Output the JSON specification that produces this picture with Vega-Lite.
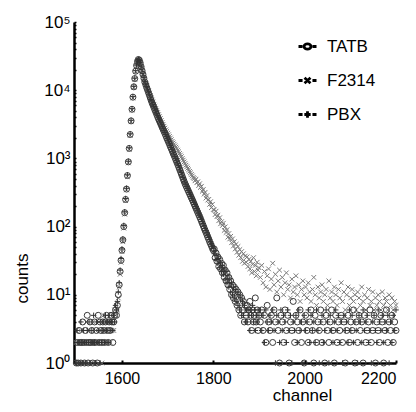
{
"$schema":"https://vega.github.io/schema/vega-lite/v6.json",
"width":322,"height":341,
"autosize":{"type":"none"},
"padding":{"left":74,"top":22,"right":20,"bottom":49},
"background":"white",
"config":{"view":{"stroke":null},"font":"Liberation Sans Narrow, Arial Narrow, Liberation Sans, Arial, sans-serif"},
"data":{"values":[
{"c":1500,"TATB":1,"F2314":2,"PBX":1},{"c":1502,"TATB":2,"F2314":1,"PBX":3},{"c":1504,"TATB":1,"F2314":2,"PBX":2},{"c":1506,"TATB":3,"F2314":1,"PBX":2},{"c":1508,"TATB":2,"F2314":2,"PBX":1},{"c":1510,"TATB":1,"F2314":3,"PBX":4},{"c":1512,"TATB":2,"F2314":1,"PBX":2},{"c":1514,"TATB":4,"F2314":2,"PBX":1},{"c":1516,"TATB":2,"F2314":1,"PBX":3},{"c":1518,"TATB":1,"F2314":2,"PBX":2},{"c":1520,"TATB":3,"F2314":1,"PBX":1},{"c":1522,"TATB":2,"F2314":4,"PBX":2},{"c":1524,"TATB":5,"F2314":2,"PBX":3},{"c":1526,"TATB":1,"F2314":1,"PBX":2},{"c":1528,"TATB":2,"F2314":3,"PBX":4},{"c":1530,"TATB":4,"F2314":2,"PBX":1},{"c":1532,"TATB":2,"F2314":1,"PBX":2},{"c":1534,"TATB":3,"F2314":2,"PBX":3},{"c":1536,"TATB":1,"F2314":4,"PBX":2},{"c":1538,"TATB":2,"F2314":2,"PBX":5},{"c":1540,"TATB":4,"F2314":1,"PBX":2},{"c":1542,"TATB":2,"F2314":3,"PBX":1},{"c":1544,"TATB":3,"F2314":2,"PBX":4},{"c":1546,"TATB":1,"F2314":2,"PBX":2},{"c":1548,"TATB":5,"F2314":1,"PBX":3},{"c":1550,"TATB":2,"F2314":4,"PBX":2},{"c":1552,"TATB":4,"F2314":2,"PBX":1},{"c":1554,"TATB":3,"F2314":3,"PBX":4},{"c":1556,"TATB":2,"F2314":1,"PBX":2},{"c":1558,"TATB":4,"F2314":2,"PBX":3},{"c":1560,"TATB":3,"F2314":5,"PBX":4},{"c":1562,"TATB":2,"F2314":3,"PBX":2},{"c":1564,"TATB":4,"F2314":2,"PBX":5},{"c":1566,"TATB":5,"F2314":4,"PBX":3},{"c":1568,"TATB":3,"F2314":2,"PBX":4},{"c":1570,"TATB":2,"F2314":4,"PBX":2},{"c":1572,"TATB":4,"F2314":3,"PBX":5},{"c":1574,"TATB":3,"F2314":2,"PBX":4},{"c":1576,"TATB":5,"F2314":4,"PBX":3},{"c":1578,"TATB":4,"F2314":3,"PBX":4},{"c":1580,"TATB":2,"F2314":5,"PBX":3},{"c":1582,"TATB":4,"F2314":3,"PBX":5},{"c":1584,"TATB":5,"F2314":6,"PBX":4},{"c":1586,"TATB":6,"F2314":5,"PBX":7},
{"c":1588,"TATB":5,"F2314":7,"PBX":6},{"c":1590,"TATB":7,"F2314":6,"PBX":8},{"c":1592,"TATB":10,"F2314":9,"PBX":11},{"c":1594,"TATB":14,"F2314":13,"PBX":15},{"c":1596,"TATB":22,"F2314":20,"PBX":23},{"c":1598,"TATB":32,"F2314":30,"PBX":34},{"c":1600,"TATB":45,"F2314":43,"PBX":47},{"c":1602,"TATB":64,"F2314":60,"PBX":66},{"c":1604,"TATB":100,"F2314":95,"PBX":104},{"c":1606,"TATB":160,"F2314":152,"PBX":165},{"c":1608,"TATB":250,"F2314":240,"PBX":258},{"c":1610,"TATB":355,"F2314":345,"PBX":365},{"c":1612,"TATB":560,"F2314":540,"PBX":575},{"c":1614,"TATB":890,"F2314":860,"PBX":910},{"c":1616,"TATB":1400,"F2314":1360,"PBX":1430},{"c":1618,"TATB":2240,"F2314":2180,"PBX":2290},{"c":1620,"TATB":3550,"F2314":3450,"PBX":3620},{"c":1622,"TATB":5250,"F2314":5120,"PBX":5350},{"c":1624,"TATB":7900,"F2314":7700,"PBX":8050},{"c":1626,"TATB":11200,"F2314":11000,"PBX":11400},{"c":1628,"TATB":14800,"F2314":14500,"PBX":15000},{"c":1630,"TATB":19000,"F2314":18700,"PBX":19300},{"c":1632,"TATB":23000,"F2314":22700,"PBX":23300},{"c":1634,"TATB":26300,"F2314":26000,"PBX":26600},{"c":1636,"TATB":28200,"F2314":27900,"PBX":28400},{"c":1638,"TATB":27500,"F2314":27300,"PBX":27700},{"c":1640,"TATB":25100,"F2314":25000,"PBX":25300},
{"c":1642,"TATB":22100,"F2314":22200,"PBX":22400},{"c":1644,"TATB":19400,"F2314":19600,"PBX":19800},{"c":1646,"TATB":17100,"F2314":17300,"PBX":17400},{"c":1648,"TATB":15000,"F2314":15300,"PBX":15300},{"c":1650,"TATB":13200,"F2314":13500,"PBX":13500},{"c":1652,"TATB":12100,"F2314":12400,"PBX":12400},{"c":1654,"TATB":11000,"F2314":11500,"PBX":11300},{"c":1656,"TATB":10100,"F2314":10600,"PBX":10400},{"c":1658,"TATB":9230,"F2314":9800,"PBX":9500},{"c":1660,"TATB":8450,"F2314":9050,"PBX":8700},{"c":1662,"TATB":7730,"F2314":8360,"PBX":7950},{"c":1664,"TATB":7060,"F2314":7710,"PBX":7300},{"c":1666,"TATB":6500,"F2314":7160,"PBX":6700},{"c":1668,"TATB":6030,"F2314":6670,"PBX":6200},{"c":1670,"TATB":5580,"F2314":6210,"PBX":5750},{"c":1672,"TATB":5160,"F2314":5790,"PBX":5320},{"c":1674,"TATB":4790,"F2314":5400,"PBX":4950},{"c":1676,"TATB":4430,"F2314":5030,"PBX":4580},{"c":1678,"TATB":4100,"F2314":4690,"PBX":4240},{"c":1680,"TATB":3800,"F2314":4370,"PBX":3930},{"c":1682,"TATB":3540,"F2314":4090,"PBX":3660},{"c":1684,"TATB":3300,"F2314":3840,"PBX":3410},{"c":1686,"TATB":3080,"F2314":3600,"PBX":3180},{"c":1688,"TATB":2860,"F2314":3370,"PBX":2960},{"c":1690,"TATB":2670,"F2314":3160,"PBX":2770},{"c":1692,"TATB":2490,"F2314":2960,"PBX":2580},{"c":1694,"TATB":2320,"F2314":2780,"PBX":2400},{"c":1696,"TATB":2160,"F2314":2620,"PBX":2240},{"c":1698,"TATB":2000,"F2314":2480,"PBX":2080},{"c":1700,"TATB":1860,"F2314":2340,"PBX":1930},{"c":1702,"TATB":1730,"F2314":2220,"PBX":1800},{"c":1704,"TATB":1610,"F2314":2100,"PBX":1670},{"c":1706,"TATB":1490,"F2314":1990,"PBX":1550},{"c":1708,"TATB":1390,"F2314":1880,"PBX":1440},{"c":1710,"TATB":1290,"F2314":1780,"PBX":1340},{"c":1712,"TATB":1190,"F2314":1690,"PBX":1240},{"c":1714,"TATB":1110,"F2314":1610,"PBX":1150},{"c":1716,"TATB":1030,"F2314":1530,"PBX":1070},{"c":1718,"TATB":953,"F2314":1460,"PBX":990},{"c":1720,"TATB":883,"F2314":1390,"PBX":920},{"c":1722,"TATB":818,"F2314":1320,"PBX":850},{"c":1724,"TATB":759,"F2314":1250,"PBX":790},{"c":1726,"TATB":698,"F2314":1180,"PBX":730},{"c":1728,"TATB":644,"F2314":1120,"PBX":670},{"c":1730,"TATB":593,"F2314":1060,"PBX":620},{"c":1732,"TATB":546,"F2314":998,"PBX":570},{"c":1734,"TATB":502,"F2314":942,"PBX":525},{"c":1736,"TATB":463,"F2314":889,"PBX":485},{"c":1738,"TATB":427,"F2314":841,"PBX":448},{"c":1740,"TATB":399,"F2314":794,"PBX":418},{"c":1742,"TATB":372,"F2314":755,"PBX":390},{"c":1744,"TATB":348,"F2314":716,"PBX":365},{"c":1746,"TATB":325,"F2314":681,"PBX":340},{"c":1748,"TATB":304,"F2314":646,"PBX":318},{"c":1750,"TATB":284,"F2314":614,"PBX":298},{"c":1752,"TATB":265,"F2314":582,"PBX":278},{"c":1754,"TATB":248,"F2314":553,"PBX":260},{"c":1756,"TATB":231,"F2314":525,"PBX":243},{"c":1758,"TATB":215,"F2314":506,"PBX":226},{"c":1760,"TATB":200,"F2314":470,"PBX":211},{"c":1762,"TATB":186,"F2314":495,"PBX":196},{"c":1764,"TATB":173,"F2314":440,"PBX":183},{"c":1766,"TATB":161,"F2314":455,"PBX":170},{"c":1768,"TATB":150,"F2314":400,"PBX":158},{"c":1770,"TATB":140,"F2314":425,"PBX":148},{"c":1772,"TATB":130,"F2314":375,"PBX":138},{"c":1774,"TATB":120,"F2314":390,"PBX":128},{"c":1776,"TATB":111,"F2314":330,"PBX":118},{"c":1778,"TATB":103,"F2314":350,"PBX":110},{"c":1780,"TATB":95,"F2314":300,"PBX":102},{"c":1782,"TATB":88,"F2314":318,"PBX":94},{"c":1784,"TATB":82,"F2314":262,"PBX":87},{"c":1786,"TATB":76,"F2314":285,"PBX":81},{"c":1788,"TATB":70,"F2314":245,"PBX":75},{"c":1790,"TATB":65,"F2314":250,"PBX":70},{"c":1792,"TATB":60,"F2314":212,"PBX":65},{"c":1794,"TATB":56,"F2314":232,"PBX":60},{"c":1796,"TATB":52,"F2314":190,"PBX":56},{"c":1798,"TATB":48,"F2314":212,"PBX":52},{"c":1800,"TATB":45,"F2314":178,"PBX":48},
{"c":1802,"TATB":47,"F2314":175,"PBX":40},{"c":1804,"TATB":35,"F2314":150,"PBX":44},{"c":1806,"TATB":41,"F2314":168,"PBX":33},{"c":1808,"TATB":31,"F2314":140,"PBX":38},{"c":1810,"TATB":36,"F2314":147,"PBX":29},{"c":1812,"TATB":26,"F2314":122,"PBX":34},{"c":1814,"TATB":33,"F2314":135,"PBX":25},{"c":1816,"TATB":24,"F2314":110,"PBX":30},{"c":1818,"TATB":29,"F2314":118,"PBX":22},{"c":1820,"TATB":21,"F2314":104,"PBX":27},{"c":1822,"TATB":27,"F2314":112,"PBX":20},{"c":1824,"TATB":18,"F2314":88,"PBX":24},{"c":1826,"TATB":23,"F2314":99,"PBX":17},{"c":1828,"TATB":16,"F2314":82,"PBX":22},{"c":1830,"TATB":21,"F2314":90,"PBX":15},{"c":1832,"TATB":14,"F2314":70,"PBX":19},{"c":1834,"TATB":18,"F2314":79,"PBX":13},{"c":1836,"TATB":12,"F2314":66,"PBX":17},{"c":1838,"TATB":16,"F2314":72,"PBX":11},{"c":1840,"TATB":10,"F2314":58,"PBX":15},{"c":1842,"TATB":14,"F2314":66,"PBX":10},{"c":1844,"TATB":9,"F2314":52,"PBX":13},{"c":1846,"TATB":13,"F2314":60,"PBX":9},{"c":1848,"TATB":8,"F2314":47,"PBX":12},{"c":1850,"TATB":12,"F2314":55,"PBX":8},{"c":1852,"TATB":7,"F2314":42,"PBX":11},{"c":1854,"TATB":11,"F2314":51,"PBX":7},{"c":1856,"TATB":6,"F2314":38,"PBX":10},{"c":1858,"TATB":10,"F2314":46,"PBX":6},{"c":1860,"TATB":5,"F2314":35,"PBX":9},{"c":1862,"TATB":9,"F2314":43,"PBX":5},{"c":1864,"TATB":6,"F2314":31,"PBX":8},{"c":1866,"TATB":8,"F2314":40,"PBX":5},{"c":1868,"TATB":4,"F2314":29,"PBX":7},{"c":1870,"TATB":7,"F2314":37,"PBX":4},
{"c":1872,"TATB":5,"F2314":30,"PBX":6},{"c":1874,"TATB":7,"F2314":36,"PBX":4},{"c":1876,"TATB":4,"F2314":26,"PBX":6},{"c":1878,"TATB":6,"F2314":33,"PBX":5},{"c":1880,"TATB":8,"F2314":24,"PBX":3},{"c":1882,"TATB":5,"F2314":31,"PBX":6},{"c":1884,"TATB":3,"F2314":21,"PBX":5},{"c":1886,"TATB":6,"F2314":28,"PBX":7},{"c":1888,"TATB":4,"F2314":35,"PBX":4},{"c":1890,"TATB":5,"F2314":22,"PBX":6},{"c":1892,"TATB":9,"F2314":27,"PBX":3},{"c":1894,"TATB":4,"F2314":19,"PBX":5},{"c":1896,"TATB":6,"F2314":30,"PBX":4},{"c":1898,"TATB":3,"F2314":23,"PBX":6},{"c":1900,"TATB":5,"F2314":25,"PBX":5},
{"c":1903,"TATB":4,"F2314":18,"PBX":6},{"c":1906,"TATB":6,"F2314":27,"PBX":3},{"c":1909,"TATB":3,"F2314":15,"PBX":5},{"c":1912,"TATB":5,"F2314":22,"PBX":2},{"c":1915,"TATB":2,"F2314":13,"PBX":6},{"c":1918,"TATB":7,"F2314":19,"PBX":4},{"c":1921,"TATB":4,"F2314":24,"PBX":3},{"c":1924,"TATB":3,"F2314":12,"PBX":5},{"c":1927,"TATB":5,"F2314":17,"PBX":4},{"c":1930,"TATB":2,"F2314":29,"PBX":6},{"c":1933,"TATB":6,"F2314":14,"PBX":3},{"c":1936,"TATB":4,"F2314":20,"PBX":1},{"c":1939,"TATB":9,"F2314":11,"PBX":5},{"c":1942,"TATB":3,"F2314":16,"PBX":4},{"c":1945,"TATB":1,"F2314":23,"PBX":2},{"c":1948,"TATB":5,"F2314":13,"PBX":6},{"c":1951,"TATB":4,"F2314":18,"PBX":3},{"c":1954,"TATB":2,"F2314":10,"PBX":5},{"c":1957,"TATB":6,"F2314":15,"PBX":4},{"c":1960,"TATB":3,"F2314":21,"PBX":2},{"c":1963,"TATB":5,"F2314":12,"PBX":6},{"c":1966,"TATB":1,"F2314":14,"PBX":3},{"c":1969,"TATB":4,"F2314":9,"PBX":5},{"c":1972,"TATB":3,"F2314":17,"PBX":1},{"c":1975,"TATB":8,"F2314":11,"PBX":4},{"c":1978,"TATB":2,"F2314":13,"PBX":3},{"c":1981,"TATB":5,"F2314":19,"PBX":5},{"c":1984,"TATB":4,"F2314":10,"PBX":2},{"c":1987,"TATB":3,"F2314":14,"PBX":6},{"c":1990,"TATB":6,"F2314":8,"PBX":3},{"c":1993,"TATB":2,"F2314":12,"PBX":4},{"c":1996,"TATB":4,"F2314":16,"PBX":1},{"c":1999,"TATB":1,"F2314":10,"PBX":5},
{"c":2002,"TATB":5,"F2314":13,"PBX":3},{"c":2005,"TATB":3,"F2314":9,"PBX":4},{"c":2008,"TATB":2,"F2314":15,"PBX":6},{"c":2011,"TATB":4,"F2314":11,"PBX":2},{"c":2014,"TATB":6,"F2314":8,"PBX":5},{"c":2017,"TATB":3,"F2314":12,"PBX":3},{"c":2020,"TATB":1,"F2314":18,"PBX":4},{"c":2023,"TATB":5,"F2314":10,"PBX":2},{"c":2026,"TATB":2,"F2314":7,"PBX":6},{"c":2029,"TATB":4,"F2314":13,"PBX":3},{"c":2032,"TATB":3,"F2314":9,"PBX":1},{"c":2035,"TATB":6,"F2314":11,"PBX":4},{"c":2038,"TATB":2,"F2314":14,"PBX":5},{"c":2041,"TATB":4,"F2314":8,"PBX":2},{"c":2044,"TATB":1,"F2314":10,"PBX":3},{"c":2047,"TATB":5,"F2314":12,"PBX":6},{"c":2050,"TATB":3,"F2314":7,"PBX":4},{"c":2053,"TATB":2,"F2314":16,"PBX":1},{"c":2056,"TATB":4,"F2314":9,"PBX":5},{"c":2059,"TATB":6,"F2314":11,"PBX":3},{"c":2062,"TATB":3,"F2314":8,"PBX":2},{"c":2065,"TATB":1,"F2314":13,"PBX":4},{"c":2068,"TATB":5,"F2314":10,"PBX":6},{"c":2071,"TATB":2,"F2314":7,"PBX":3},{"c":2074,"TATB":4,"F2314":12,"PBX":5},{"c":2077,"TATB":3,"F2314":9,"PBX":2},{"c":2080,"TATB":5,"F2314":15,"PBX":4},{"c":2083,"TATB":2,"F2314":8,"PBX":1},{"c":2086,"TATB":4,"F2314":11,"PBX":5},{"c":2089,"TATB":1,"F2314":6,"PBX":3},{"c":2092,"TATB":3,"F2314":10,"PBX":4},{"c":2095,"TATB":5,"F2314":13,"PBX":2},{"c":2098,"TATB":2,"F2314":7,"PBX":6},
{"c":2101,"TATB":4,"F2314":9,"PBX":3},{"c":2104,"TATB":3,"F2314":12,"PBX":5},{"c":2107,"TATB":6,"F2314":8,"PBX":2},{"c":2110,"TATB":1,"F2314":10,"PBX":4},{"c":2113,"TATB":4,"F2314":6,"PBX":3},{"c":2116,"TATB":2,"F2314":11,"PBX":1},{"c":2119,"TATB":5,"F2314":9,"PBX":5},{"c":2122,"TATB":3,"F2314":7,"PBX":4},{"c":2125,"TATB":4,"F2314":13,"PBX":2},{"c":2128,"TATB":1,"F2314":8,"PBX":6},{"c":2131,"TATB":5,"F2314":10,"PBX":3},{"c":2134,"TATB":2,"F2314":6,"PBX":4},{"c":2137,"TATB":3,"F2314":9,"PBX":5},{"c":2140,"TATB":4,"F2314":12,"PBX":2},{"c":2143,"TATB":6,"F2314":7,"PBX":3},{"c":2146,"TATB":2,"F2314":8,"PBX":1},{"c":2149,"TATB":3,"F2314":11,"PBX":4},{"c":2152,"TATB":5,"F2314":6,"PBX":5},{"c":2155,"TATB":1,"F2314":9,"PBX":3},{"c":2158,"TATB":4,"F2314":7,"PBX":2},{"c":2161,"TATB":3,"F2314":10,"PBX":6},{"c":2164,"TATB":2,"F2314":8,"PBX":4},{"c":2167,"TATB":5,"F2314":6,"PBX":3},{"c":2170,"TATB":4,"F2314":11,"PBX":5},{"c":2173,"TATB":1,"F2314":7,"PBX":2},{"c":2176,"TATB":3,"F2314":9,"PBX":4},{"c":2179,"TATB":6,"F2314":8,"PBX":3},{"c":2182,"TATB":2,"F2314":6,"PBX":5},{"c":2185,"TATB":4,"F2314":10,"PBX":1},{"c":2188,"TATB":3,"F2314":7,"PBX":4},{"c":2191,"TATB":5,"F2314":9,"PBX":2},{"c":2194,"TATB":2,"F2314":6,"PBX":5},{"c":2197,"TATB":4,"F2314":8,"PBX":3},{"c":2200,"TATB":3,"F2314":7,"PBX":6}
]},
"transform":[{"fold":["TATB","F2314","PBX"],"as":["series","counts"]}],
"encoding":{
"x":{"field":"c","type":"quantitative","scale":{"domain":[1495,2200],"nice":false,"zero":false},
"axis":{"title":"channel","values":[1600,1800,2000,2200],"format":"d","grid":false,"domainColor":"black","domainWidth":2.5,"tickColor":"black","tickSize":-3,"tickWidth":2,"labelPadding":10,"labelFontSize":16,"labelColor":"black","titleFontSize":17,"titleFontWeight":"normal","titleColor":"black","titleX":228,"titleY":24,"titleBaseline":"top","titleAnchor":"middle"}},
"y":{"field":"counts","type":"quantitative","scale":{"type":"log","domain":[1,100000],"nice":false},
"axis":{"title":"counts","values":[1,2,3,4,5,6,7,8,9,10,20,30,40,50,60,70,80,90,100,200,300,400,500,600,700,800,900,1000,2000,3000,4000,5000,6000,7000,8000,9000,10000,20000,30000,40000,50000,60000,70000,80000,90000,100000],
"labelExpr":"datum.value==1?'10⁰':datum.value==10?'10¹':datum.value==100?'10²':datum.value==1000?'10³':datum.value==10000?'10⁴':datum.value==100000?'10⁵':''",
"grid":false,"domainColor":"black","domainWidth":2.5,"tickColor":"black","tickSize":-2,"tickWidth":1.5,"labelPadding":6,"labelFontSize":17,"labelColor":"black","labelOverlap":false,"titleFontSize":17,"titleFontWeight":"normal","titleColor":"black","titleX":-52,"titleY":256,"titleAngle":270,"titleAlign":"center","titleBaseline":"middle"}}
},
"layer":[
{"transform":[{"filter":"datum.series=='F2314'"}],"mark":{"type":"point","filled":false,"strokeWidth":1,"opacity":1,"color":"#7a7a7a","size":22,"shape":"M-1,-1L1,1M1,-1L-1,1"}},
{"transform":[{"filter":"datum.series=='TATB'"}],"mark":{"type":"point","filled":false,"strokeWidth":1,"opacity":1,"color":"#3a3a3a","size":36,"shape":"circle"}},
{"transform":[{"filter":"datum.series=='PBX'"}],"mark":{"type":"point","filled":false,"strokeWidth":1,"opacity":1,"color":"#333333","size":30,"shape":"M-1,0L1,0M0,-1L0,1"}},
{"transform":[{"filter":"datum.c < 0"}],"mark":{"type":"point","filled":false,"strokeWidth":2.8,"opacity":1,"color":"black"},
"encoding":{"shape":{"field":"series","type":"nominal","scale":{"domain":["TATB","F2314","PBX"],"range":["M-1,0L-0.55,0M0.55,0L1,0M-0.38,0A0.38,0.3 0 1,1 0.38,0A0.38,0.3 0 1,1 -0.38,0","M-1,0L-0.55,0M0.55,0L1,0M-0.33,-0.3L0.33,0.3M0.33,-0.3L-0.33,0.3","M-1,0L-0.55,0M0.55,0L1,0M-0.35,0L0.35,0M0,-0.35L0,0.35"]},
"legend":{"title":null,"orient":"none","legendX":223,"legendY":14,"padding":0,"rowPadding":15,"symbolSize":324,"symbolStrokeColor":"black","symbolStrokeWidth":2.8,"symbolFillColor":"transparent","symbolOpacity":1,"labelFontSize":17,"labelColor":"black","labelOffset":9}}}}
]
}
